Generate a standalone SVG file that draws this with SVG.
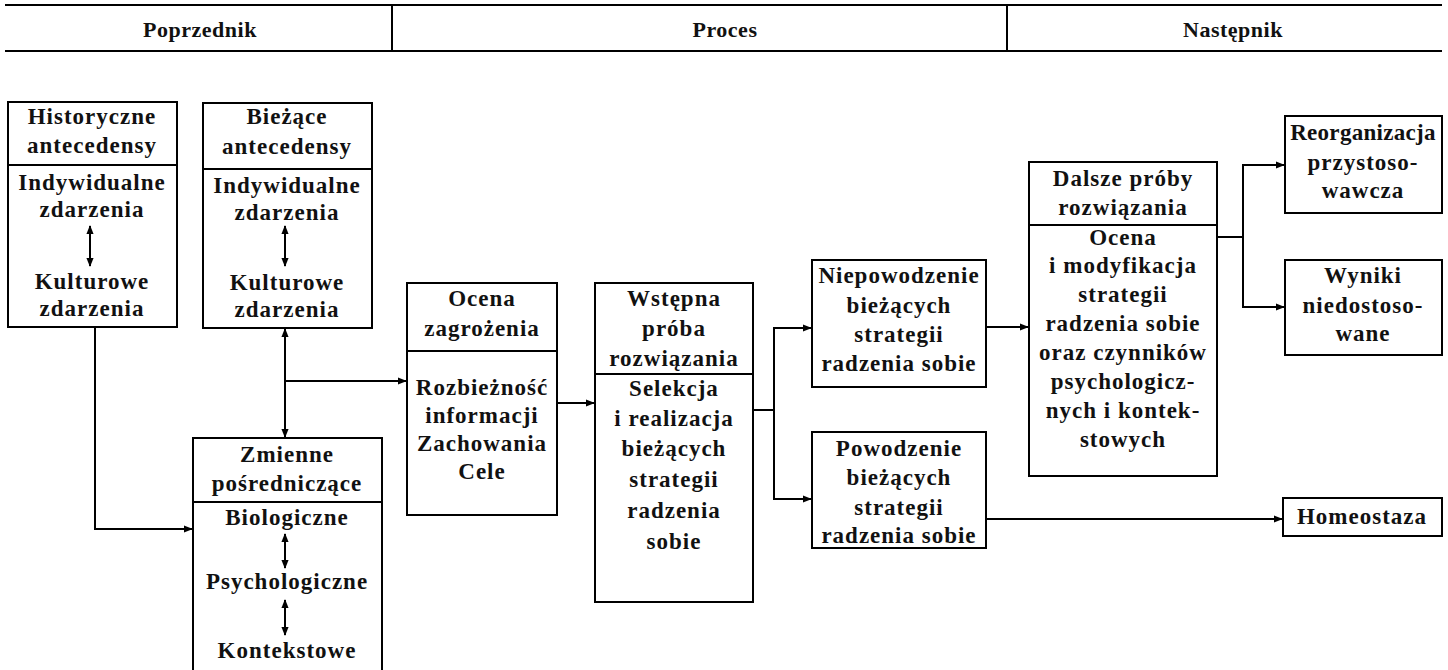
<svg xmlns="http://www.w3.org/2000/svg" width="1448" height="670" viewBox="0 0 1448 670">
<style>
.b{fill:#fff;stroke:#000;stroke-width:2}
.l{fill:none;stroke:#000;stroke-width:2}
text{font-family:"Liberation Serif","Times New Roman",serif;font-size:23px;font-weight:bold;fill:#111;text-anchor:middle;dominant-baseline:central;letter-spacing:1px}
.h{font-size:22px;letter-spacing:0.5px}
</style>
<defs>
<marker id="a" viewBox="0 0 10 10" refX="9" refY="5" markerWidth="9" markerHeight="9" markerUnits="userSpaceOnUse" orient="auto-start-reverse"><path d="M0,1 L10,5 L0,9 z" fill="#000"/></marker>
</defs>
<rect width="1448" height="670" fill="#fff"/>
<g id="header">
<line class="l" x1="5" y1="5" x2="1442" y2="5"/>
<line class="l" x1="5" y1="51" x2="1442" y2="51"/>
<line class="l" x1="392" y1="5" x2="392" y2="51"/>
<line class="l" x1="1007" y1="5" x2="1007" y2="51"/>
<text class="h" x="200" y="29">Poprzednik</text>
<text class="h" x="725" y="29">Proces</text>
<text class="h" x="1233" y="29">Następnik</text>
</g>
<g id="historyczne">
<rect class="b" x="8" y="102" width="169" height="225"/>
<line class="l" x1="8" y1="165" x2="177" y2="165"/>
<text x="92" y="116">Historyczne</text>
<text x="92" y="145">antecedensy</text>
<text x="92" y="182">Indywidualne</text>
<text x="92" y="209">zdarzenia</text>
<line class="l" x1="90" y1="226" x2="90" y2="266" marker-start="url(#a)" marker-end="url(#a)"/>
<text x="92" y="281">Kulturowe</text>
<text x="92" y="308">zdarzenia</text>
</g>
<g id="biezace">
<rect class="b" x="203" y="103" width="169" height="225"/>
<line class="l" x1="203" y1="169" x2="372" y2="169"/>
<text x="287" y="116">Bieżące</text>
<text x="287" y="146">antecedensy</text>
<text x="287" y="185">Indywidualne</text>
<text x="287" y="212">zdarzenia</text>
<line class="l" x1="285" y1="226" x2="285" y2="266" marker-start="url(#a)" marker-end="url(#a)"/>
<text x="287" y="282">Kulturowe</text>
<text x="287" y="309">zdarzenia</text>
</g>
<g id="zmienne">
<rect class="b" x="193" y="438" width="189" height="240"/>
<line class="l" x1="193" y1="502" x2="382" y2="502"/>
<text x="287" y="454">Zmienne</text>
<text x="287" y="483">pośredniczące</text>
<text x="287" y="517">Biologiczne</text>
<line class="l" x1="285" y1="534" x2="285" y2="568" marker-start="url(#a)" marker-end="url(#a)"/>
<text x="287" y="581">Psychologiczne</text>
<line class="l" x1="285" y1="600" x2="285" y2="635" marker-start="url(#a)" marker-end="url(#a)"/>
<text x="287" y="650">Kontekstowe</text>
</g>
<g id="ocena">
<rect class="b" x="407" y="283" width="150" height="232"/>
<line class="l" x1="407" y1="351" x2="557" y2="351"/>
<text x="482" y="298">Ocena</text>
<text x="482" y="328">zagrożenia</text>
<text x="482" y="387">Rozbieżność</text>
<text x="482" y="415">informacji</text>
<text x="482" y="443">Zachowania</text>
<text x="482" y="471">Cele</text>
</g>
<g id="wstepna">
<rect class="b" x="595" y="283" width="158" height="319"/>
<line class="l" x1="595" y1="374" x2="753" y2="374"/>
<text x="674" y="298">Wstępna</text>
<text x="674" y="328">próba</text>
<text x="674" y="358">rozwiązania</text>
<text x="674" y="388">Selekcja</text>
<text x="674" y="418">i realizacja</text>
<text x="674" y="448">bieżących</text>
<text x="674" y="479">strategii</text>
<text x="674" y="510">radzenia</text>
<text x="674" y="541">sobie</text>
</g>
<g id="niepowodzenie">
<rect class="b" x="812" y="260" width="174" height="127"/>
<text x="899" y="275">Niepowodzenie</text>
<text x="899" y="305">bieżących</text>
<text x="899" y="334">strategii</text>
<text x="899" y="363">radzenia sobie</text>
</g>
<g id="powodzenie">
<rect class="b" x="812" y="432" width="174" height="116"/>
<text x="899" y="448">Powodzenie</text>
<text x="899" y="477">bieżących</text>
<text x="899" y="507">strategii</text>
<text x="899" y="535">radzenia sobie</text>
</g>
<g id="dalsze">
<rect class="b" x="1029" y="162" width="188" height="314"/>
<line class="l" x1="1029" y1="225" x2="1217" y2="225"/>
<text x="1123" y="178">Dalsze próby</text>
<text x="1123" y="207">rozwiązania</text>
<text x="1123" y="237">Ocena</text>
<text x="1123" y="265">i modyfikacja</text>
<text x="1123" y="294">strategii</text>
<text x="1123" y="323">radzenia sobie</text>
<text x="1123" y="352">oraz czynników</text>
<text x="1123" y="381">psychologicz-</text>
<text x="1123" y="410">nych i kontek-</text>
<text x="1123" y="439">stowych</text>
</g>
<g id="reorganizacja">
<rect class="b" x="1285" y="116" width="157" height="97"/>
<text x="1363" y="132" style="letter-spacing:0.3px">Reorganizacja</text>
<text x="1363" y="162">przystoso-</text>
<text x="1363" y="190">wawcza</text>
</g>
<g id="wyniki">
<rect class="b" x="1285" y="260" width="157" height="95"/>
<text x="1363" y="275">Wyniki</text>
<text x="1363" y="305">niedostoso-</text>
<text x="1363" y="333">wane</text>
</g>
<g id="homeostaza">
<rect class="b" x="1283" y="498" width="159" height="38"/>
<text x="1362" y="516">Homeostaza</text>
</g>
<g id="connectors">
<polyline class="l" points="95,327 95,529 192,529" marker-end="url(#a)"/>
<line class="l" x1="285" y1="329" x2="285" y2="437" marker-start="url(#a)" marker-end="url(#a)"/>
<line class="l" x1="285" y1="381" x2="406" y2="381" marker-end="url(#a)"/>
<line class="l" x1="557" y1="403" x2="594" y2="403" marker-end="url(#a)"/>
<polyline class="l" points="753,410 774,410"/>
<polyline class="l" points="811,328 774,328 774,499 811,499" marker-start="url(#a)" marker-end="url(#a)"/>
<line class="l" x1="986" y1="327" x2="1028" y2="327" marker-end="url(#a)"/>
<line class="l" x1="986" y1="519" x2="1282" y2="519" marker-end="url(#a)"/>
<line class="l" x1="1217" y1="237" x2="1243" y2="237"/>
<polyline class="l" points="1284,165 1243,165 1243,307 1284,307" marker-start="url(#a)" marker-end="url(#a)"/>
</g>
</svg>
